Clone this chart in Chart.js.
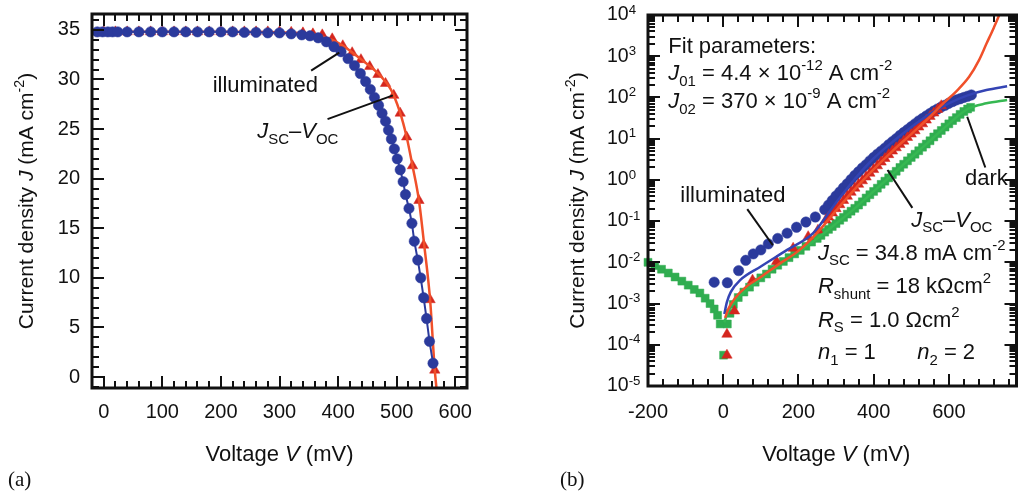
<!DOCTYPE html>
<html>
<head>
<meta charset="utf-8">
<script src="https://cdn.jsdelivr.net/npm/chart.js@4.4.1/dist/chart.umd.min.js"></script>
<style>
  html, body { margin: 0; padding: 0; background: #fff; }
  #wrap { position: relative; width: 1023px; height: 492px; overflow: hidden; }
  #wrap canvas { position: absolute; top: 0; }
</style>
</head>
<body>
<div id="wrap">
  <canvas id="chartA" width="520" height="492" style="left:0"></canvas>
  <canvas id="chartB" width="503" height="492" style="left:520px"></canvas>
</div>
<script>
// ---- panel (a): linear J-V, current density in mA cm-2 vs voltage in mV ----
const aIllumV = [-11, -2, 7, 15, 24, 40, 60, 80, 100, 120, 140, 160, 180, 200, 220, 240, 260, 280,
  300, 320, 338, 352, 366, 380, 393, 405, 417, 428, 438, 447, 455, 462, 469, 475, 481, 486, 491,
  496, 501, 506, 511, 515, 521, 526, 530, 536, 541, 546, 551, 556, 562];
const aIllumJ = [34.8, 34.8, 34.8, 34.8, 34.8, 34.8, 34.8, 34.8, 34.8, 34.8, 34.8, 34.8, 34.8, 34.8, 34.8, 34.75, 34.75, 34.7,
  34.7, 34.6, 34.5, 34.4, 34.2, 33.8, 33.3, 32.8, 32.1, 31.4, 30.6, 29.8, 29.0, 28.2, 27.4, 26.6, 25.8, 24.9, 24.0,
  23.0, 22.0, 20.9, 19.7, 18.4, 17.0, 15.5, 13.7, 11.8, 10.0, 8.0, 5.9, 3.6, 1.4];
const aJscVocV = [0, 20, 40, 60, 80, 100, 120, 140, 160, 180, 200, 220, 240, 260, 280, 300, 320, 340, 357,
  373, 390, 408, 424, 439, 454, 468, 481, 495, 506, 517, 527, 538, 546, 557, 565];
const aJscVocJ = [34.8, 34.8, 34.8, 34.8, 34.8, 34.8, 34.8, 34.8, 34.8, 34.8, 34.8, 34.8, 34.8, 34.8, 34.8, 34.8, 34.75, 34.7, 34.6,
  34.5, 34.1, 33.4, 32.7, 32.0, 31.3, 30.5, 29.6, 28.4, 26.6, 24.2, 21.3, 17.8, 13.3, 7.8, 0.7];
const aFitV = [-20, 100, 200, 300, 350, 400, 440, 470, 490, 505, 517, 527, 538, 547, 557, 565, 568];
const aFitJ = [34.8, 34.8, 34.8, 34.75, 34.6, 33.7, 32.0, 30.5, 29.0, 26.8, 24.2, 21.3, 17.8, 13.3, 7.8, 0.7, -1.2];
const aXTicks = [0, 100, 200, 300, 400, 500, 600];
const aYTicks = [0, 5, 10, 15, 20, 25, 30, 35];

// ---- panel (b): semilog, |J| in mA cm-2 vs voltage in mV ----
const bDarkV = [-200, -182, -164, -146, -128, -110, -93, -77, -62, -48, -35, -24, -15, -8, 1, 11, 18, 27,
  40, 55, 70, 85, 100, 115, 130, 145, 160, 175, 190, 205, 220, 235,
  250, 260, 270, 280, 290, 300, 310, 320, 330, 340, 350, 360, 370, 380, 390, 400, 410, 420, 430, 440,
  450, 460, 470, 480, 490, 500, 510, 520, 530, 540, 550, 560, 570, 580, 590, 600, 610, 620, 630, 640, 650, 658];
const bDarkJ = [1.0e-2, 8.3e-3, 6.8e-3, 5.5e-3, 4.4e-3, 3.5e-3, 2.8e-3, 2.2e-3, 1.8e-3, 1.35e-3, 1.0e-3, 7.4e-4, 5.2e-4, 3.2e-4, 5.6e-5, 3.2e-4, 5.8e-4, 9.5e-4,
  1.4e-3, 1.9e-3, 2.5e-3, 3.3e-3, 4.2e-3, 5.2e-3, 6.8e-3, 8.5e-3, 1.05e-2, 1.3e-2, 1.6e-2, 1.95e-2, 2.45e-2, 3.1e-2,
  0.038, 0.045, 0.054, 0.063, 0.074, 0.087, 0.105, 0.123, 0.148, 0.174, 0.204, 0.245, 0.295, 0.363, 0.437, 0.525, 0.63, 0.78, 0.93, 1.12,
  1.35, 1.62, 2.0, 2.4, 2.9, 3.5, 4.2, 5.1, 6.2, 7.4, 8.9, 11.0, 13.2, 15.8, 19.1, 22.9, 27.5, 32.4, 38.9, 45.7, 52.5, 57.5];
const bIllumV = [-24, 11, 41, 60, 80, 100, 120, 145, 170, 195, 220, 245, 270,
  280, 290, 300, 310, 320, 330, 340, 350, 360, 370, 380, 390, 400, 410, 420, 430, 440, 450, 460, 470,
  480, 490, 500, 510, 520, 530, 540, 550, 560, 570, 580, 590, 600, 610, 620, 630, 640, 650, 660];
const bIllumJ = [3.3e-3, 3.2e-3, 6.3e-3, 1.12e-2, 1.6e-2, 2.0e-2, 2.8e-2, 3.8e-2, 5.1e-2, 7.1e-2, 9.5e-2, 0.126, 0.19,
  0.245, 0.316, 0.41, 0.51, 0.65, 0.81, 1.02, 1.29, 1.58, 1.95, 2.34, 2.9, 3.5, 4.2, 5.0, 5.9, 7.1, 8.5, 10.0, 12.0,
  14.1, 16.6, 19.5, 22.9, 26.9, 30.9, 35.5, 40.7, 46.8, 52.5, 58.9, 64.6, 72.4, 79.4, 87, 93, 100, 107, 115];
const bJscVocV = [10, 10, 30, 78, 142, 186, 226, 252, 273,
  280, 290, 300, 310, 320, 330, 340, 350, 360, 370, 380, 390, 400, 410, 420, 430, 440, 450, 460, 470,
  480, 490, 500, 510, 520, 530, 540, 550, 560, 570, 580];
const bJscVocJ = [1.8e-4, 5.6e-5, 6.6e-4, 3.7e-3, 1.05e-2, 2.2e-2, 4.2e-2, 6.0e-2, 0.107,
  0.126, 0.158, 0.20, 0.25, 0.316, 0.40, 0.50, 0.63, 0.78, 0.95, 1.17, 1.45, 1.78, 2.19, 2.7, 3.3, 4.1, 5.0, 6.0, 7.2,
  8.7, 10.7, 12.9, 15.5, 19.1, 22.9, 28.2, 34.7, 41.7, 51, 63];
const bFitRedV = [5, 15, 30, 60, 100, 150, 200, 250, 300, 350, 400, 450, 500, 550, 583, 620, 654, 680, 700, 720, 734, 750];
const bFitRedJ = [4.5e-4, 7.9e-4, 1.3e-3, 2.5e-3, 4.4e-3, 9.3e-3, 1.9e-2, 5.2e-2, 0.18, 0.6, 1.8, 5.0, 12.9, 34, 69, 141, 316, 794, 2000, 5000, 1e4, 2.5e4];
const bFitBlueV = [3, 10, 20, 45, 100, 170, 240, 300, 350, 400, 450, 500, 550, 600, 650, 700, 755];
const bFitBlueJ = [5.6e-4, 1.1e-3, 1.9e-3, 3.7e-3, 7.9e-3, 2.0e-2, 5.2e-2, 0.28, 1.05, 3.3, 8.3, 19, 40, 72, 112, 151, 186];
const bFitGreenV = [3, 15, 40, 100, 150, 200, 250, 300, 350, 400, 450, 500, 550, 600, 650, 700, 755];
const bFitGreenJ = [3.5e-4, 7.1e-4, 1.4e-3, 4.0e-3, 8.9e-3, 1.8e-2, 3.8e-2, 8.7e-2, 0.204, 0.525, 1.35, 3.5, 8.9, 22.9, 52.5, 72, 87];
const bXTicks = [-200, 0, 200, 400, 600];
const bYExp = [-5, -4, -3, -2, -1, 0, 1, 2, 3, 4];

const INK = '#111';
const BLUE = '#2b3a9c';
const BLUE_LINE = '#3444b4';
const RED_LINE = '#f0502a';
const RED_TRI = '#d4261e';
const GREEN = '#30ad50';
const GREEN_LINE = '#36b852';
const SANS = '"Liberation Sans", Arial, sans-serif';
const NOTE = 22;   // annotation font size
const TICK = 20;   // tick label font size

const pts = (xs, ys) => xs.map((x, i) => ({ x, y: ys[i] }));

function setFont(ctx, size, italic) {
  ctx.font = (italic ? 'italic ' : '') + size + 'px ' + SANS;
}

// parts: [text, kind], kind '' normal, 'i' italic, 'b' subscript, 'p' superscript
function richWidth(ctx, parts, size) {
  let w = 0;
  for (const [t, k] of parts) {
    setFont(ctx, (k === 'b' || k === 'p') ? size * 0.68 : size, k === 'i');
    w += ctx.measureText(t).width;
  }
  return w;
}

function drawRich(ctx, parts, x, y, size, align, supDy) {
  const w = richWidth(ctx, parts, size);
  let cx = align === 'center' ? x - w / 2 : align === 'right' ? x - w : x;
  ctx.textAlign = 'left';
  for (const [t, k] of parts) {
    const small = k === 'b' || k === 'p';
    setFont(ctx, small ? size * 0.68 : size, k === 'i');
    let dy = 0;
    if (k === 'b') dy = size * 0.25;
    if (k === 'p') dy = supDy !== undefined ? supDy : -size * 0.45;
    ctx.fillText(t, cx, y + dy);
    cx += ctx.measureText(t).width;
  }
}

function tickList(major, min, max, step) {
  const out = [];
  for (let v = min; v <= max + 1e-9; v += step) {
    const r = Math.round(v * 1000) / 1000;
    if (!major.includes(r)) out.push(r);
  }
  return out;
}

function leader(ctx, chart, v1, j1, v2, j2) {
  const sx = chart.scales.x, sy = chart.scales.y;
  ctx.beginPath();
  ctx.moveTo(sx.getPixelForValue(v1), sy.getPixelForValue(j1));
  ctx.lineTo(sx.getPixelForValue(v2), sy.getPixelForValue(j2));
  ctx.stroke();
}

function textAt(ctx, chart, parts, v, j) {
  drawRich(ctx, parts, chart.scales.x.getPixelForValue(v), chart.scales.y.getPixelForValue(j), NOTE, 'left');
}

// box with inward ticks on all four sides, then labels and notes
function framePlugin(spec) {
  return {
    id: 'frame',
    afterDraw(chart) {
      const ctx = chart.ctx, a = chart.chartArea;
      const sx = chart.scales.x, sy = chart.scales.y;
      ctx.save();
      ctx.strokeStyle = INK;
      ctx.fillStyle = INK;
      ctx.lineWidth = 2;
      ctx.beginPath();
      const xt = (v, len) => {
        const p = Math.round(sx.getPixelForValue(v));
        ctx.moveTo(p, a.bottom); ctx.lineTo(p, a.bottom - len);
        ctx.moveTo(p, a.top); ctx.lineTo(p, a.top + len);
      };
      const yt = (v, len) => {
        const p = Math.round(sy.getPixelForValue(v));
        ctx.moveTo(a.left, p); ctx.lineTo(a.left + len, p);
        ctx.moveTo(a.right, p); ctx.lineTo(a.right - len, p);
      };
      spec.xMajor.forEach(v => xt(v, 12));
      spec.xMinor.forEach(v => xt(v, 7));
      spec.yMajor.forEach(v => yt(v, 12));
      spec.yMinor.forEach(v => yt(v, 7));
      ctx.stroke();
      ctx.lineWidth = 3;
      ctx.strokeRect(a.left, a.top, a.right - a.left, a.bottom - a.top);
      ctx.lineWidth = 2;
      spec.labels(ctx, chart, a);
      ctx.restore();
    }
  };
}

const baseOptions = (padding, xMin, xMax, yType, yMin, yMax) => ({
  responsive: false,
  animation: false,
  events: [],
  layout: { padding },
  plugins: { legend: { display: false }, tooltip: { enabled: false } },
  scales: {
    x: { type: 'linear', min: xMin, max: xMax, display: false },
    y: { type: yType, min: yMin, max: yMax, display: false }
  }
});

const yTitle = [['Current density ', ''], ['J', 'i'], [' (mA cm', ''], ['-2', 'p'], [')', '']];
const xTitle = [['Voltage ', ''], ['V', 'i'], [' (mV)', '']];
const jscVoc = [['J', 'i'], ['SC', 'b'], ['–', ''], ['V', 'i'], ['OC', 'b']];

// ---------- chart (a) ----------
new Chart(document.getElementById('chartA'), {
  type: 'scatter',
  data: {
    datasets: [
      {
        data: pts(aIllumV, aIllumJ), showLine: true, borderColor: BLUE, borderWidth: 2,
        pointStyle: 'circle', pointRadius: 5.2, pointBackgroundColor: BLUE, pointBorderColor: BLUE,
        pointBorderWidth: 0.5, clip: false, order: 0
      },
      {
        data: pts(aFitV, aFitJ), showLine: true, borderColor: RED_LINE, borderWidth: 2.5,
        cubicInterpolationMode: 'monotone', pointRadius: 0, clip: 0, order: 1
      },
      {
        data: pts(aJscVocV, aJscVocJ), showLine: false, pointStyle: 'triangle', pointRadius: 6,
        pointBackgroundColor: RED_TRI, pointBorderColor: RED_TRI, pointBorderWidth: 0.5, clip: false, order: 2
      }
    ]
  },
  options: baseOptions({ left: 92, top: 14, right: 53, bottom: 104 }, -20, 620, 'linear', -1.1, 36.6),
  plugins: [framePlugin({
    xMajor: aXTicks,
    xMinor: tickList(aXTicks, -20, 620, 20),
    yMajor: aYTicks,
    yMinor: tickList(aYTicks, -1, 36, 1),
    labels(ctx, chart, a) {
      const sx = chart.scales.x, sy = chart.scales.y;
      setFont(ctx, TICK);
      ctx.textAlign = 'center';
      ctx.textBaseline = 'alphabetic';
      aXTicks.forEach(v => ctx.fillText(String(v), sx.getPixelForValue(v), a.bottom + 30));
      ctx.textAlign = 'right';
      ctx.textBaseline = 'middle';
      aYTicks.forEach(v => ctx.fillText(String(v), a.left - 12, sy.getPixelForValue(v)));
      ctx.textBaseline = 'alphabetic';
      drawRich(ctx, xTitle, (a.left + a.right) / 2, a.bottom + 73, 22, 'center');
      ctx.save();
      ctx.translate(a.left - 59, (a.top + a.bottom) / 2);
      ctx.rotate(-Math.PI / 2);
      drawRich(ctx, yTitle, 0, 0, 21, 'center');
      ctx.restore();
      textAt(ctx, chart, [['illuminated', '']], 186, 28.7);
      leader(ctx, chart, 354, 30.9, 402, 32.7);
      textAt(ctx, chart, jscVoc, 262, 24.1);
      leader(ctx, chart, 382, 26.0, 493.5, 28.4);
      ctx.font = '21px "Liberation Serif", "Times New Roman", serif';
      ctx.textAlign = 'left';
      ctx.fillText('(a)', 8, 486);
    }
  })]
});

// ---------- chart (b) ----------
new Chart(document.getElementById('chartB'), {
  type: 'scatter',
  data: {
    datasets: [
      {
        data: pts(bFitRedV, bFitRedJ), showLine: true, borderColor: RED_LINE, borderWidth: 2.5,
        cubicInterpolationMode: 'monotone', pointRadius: 0, clip: 0, order: 0
      },
      {
        data: pts(bFitBlueV, bFitBlueJ), showLine: true, borderColor: BLUE_LINE, borderWidth: 2.5,
        cubicInterpolationMode: 'monotone', pointRadius: 0, clip: 0, order: 1
      },
      {
        data: pts(bFitGreenV, bFitGreenJ), showLine: true, borderColor: GREEN_LINE, borderWidth: 2.5,
        cubicInterpolationMode: 'monotone', pointRadius: 0, clip: 0, order: 2
      },
      {
        data: pts(bJscVocV, bJscVocJ), showLine: false, pointStyle: 'triangle', pointRadius: 6,
        pointBackgroundColor: RED_TRI, pointBorderColor: RED_TRI, pointBorderWidth: 0.5, clip: false, order: 3
      },
      {
        data: pts(bIllumV, bIllumJ), showLine: false, pointStyle: 'circle', pointRadius: 5.2,
        pointBackgroundColor: BLUE, pointBorderColor: BLUE, pointBorderWidth: 0.5, clip: false, order: 4
      },
      {
        data: pts(bDarkV, bDarkJ), showLine: false, pointStyle: 'rect', pointRadius: 5.6,
        pointBackgroundColor: GREEN, pointBorderColor: GREEN, pointBorderWidth: 0.5, clip: false, order: 5
      }
    ]
  },
  options: baseOptions({ left: 128, top: 15, right: 5, bottom: 106 }, -200, 780, 'logarithmic', 1e-5, 1e4),
  plugins: [framePlugin({
    xMajor: bXTicks,
    xMinor: tickList(bXTicks, -200, 780, 40),
    yMajor: bYExp.map(e => Math.pow(10, e)),
    yMinor: bYExp.slice(0, -1).flatMap(e => [2, 3, 4, 5, 6, 7, 8, 9].map(m => m * Math.pow(10, e))),
    labels(ctx, chart, a) {
      const sx = chart.scales.x, sy = chart.scales.y;
      setFont(ctx, TICK);
      ctx.textAlign = 'center';
      ctx.textBaseline = 'alphabetic';
      bXTicks.forEach(v => ctx.fillText(String(v), sx.getPixelForValue(v), a.bottom + 32));
      ctx.textBaseline = 'middle';
      bYExp.forEach(e => drawRich(ctx, [['10', ''], [String(e), 'p']], a.left - 41, sy.getPixelForValue(Math.pow(10, e)), 19.5, 'left', -5));
      ctx.textBaseline = 'alphabetic';
      drawRich(ctx, xTitle, (a.left + a.right) / 2 + 4, a.bottom + 75, 22, 'center');
      ctx.save();
      ctx.translate(a.left - 64, (a.top + a.bottom) / 2);
      ctx.rotate(-Math.PI / 2);
      drawRich(ctx, yTitle, 0, 0, 21, 'center');
      ctx.restore();

      textAt(ctx, chart, [['Fit parameters:', '']], -146, 1200);
      textAt(ctx, chart, [['J', 'i'], ['01', 'b'], [' = 4.4 × 10', ''], ['-12', 'p'], [' A cm', ''], ['-2', 'p']], -146, 263);
      textAt(ctx, chart, [['J', 'i'], ['02', 'b'], [' = 370 × 10', ''], ['-9', 'p'], [' A cm', ''], ['-2', 'p']], -146, 55);
      textAt(ctx, chart, [['illuminated', '']], -114, 0.295);
      leader(ctx, chart, 64, 0.195, 132, 0.026);
      textAt(ctx, chart, jscVoc, 500, 0.072);
      leader(ctx, chart, 437, 1.74, 503, 0.21);
      textAt(ctx, chart, [['dark', '']], 643, 0.76);
      leader(ctx, chart, 649, 34, 697, 2.0);
      textAt(ctx, chart, [['J', 'i'], ['SC', 'b'], [' = 34.8 mA cm', ''], ['-2', 'p']], 252, 0.0115);
      textAt(ctx, chart, [['R', 'i'], ['shunt', 'b'], [' = 18 kΩcm', ''], ['2', 'p']], 252, 1.78e-3);
      textAt(ctx, chart, [['R', 'i'], ['S', 'b'], [' = 1.0 Ωcm', ''], ['2', 'p']], 252, 2.75e-4);
      textAt(ctx, chart, [['n', 'i'], ['1', 'b'], [' = 1', '']], 252, 4.5e-5);
      textAt(ctx, chart, [['n', 'i'], ['2', 'b'], [' = 2', '']], 516, 4.5e-5);
      ctx.font = '21px "Liberation Serif", "Times New Roman", serif';
      ctx.textAlign = 'left';
      ctx.fillText('(b)', 40, 486);
    }
  })]
});
</script>
</body>
</html>
